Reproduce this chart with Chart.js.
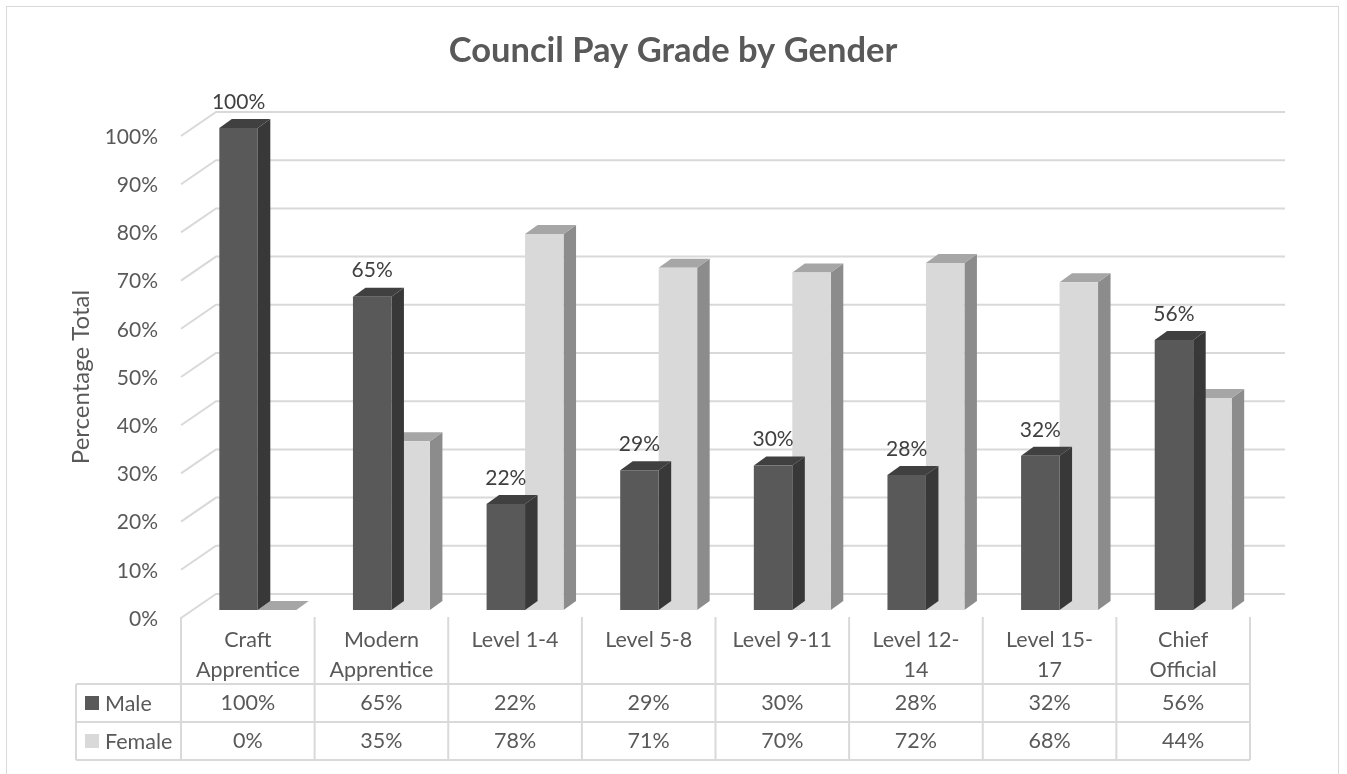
<!DOCTYPE html>
<html>
<head>
<meta charset="utf-8">
<script src="https://cdn.jsdelivr.net/npm/chart.js@4.4.1/dist/chart.umd.min.js"></script>
<style>
    html, body { margin: 0; padding: 0; background: #FFFFFF; }
    #wrap { width: 1347px; height: 774px; position: relative; }
</style>
</head>
<body>
<div id="wrap"><canvas id="chart" width="1347" height="774"></canvas></div>
<script>
const categories = ["Craft Apprentice", "Modern Apprentice", "Level 1-4", "Level 5-8", "Level 9-11", "Level 12-14", "Level 15-17", "Chief Official"];
// how each category wraps in the table header
const categoryLines = [["Craft", "Apprentice"], ["Modern", "Apprentice"], ["Level 1-4"], ["Level 5-8"], ["Level 9-11"], ["Level 12-", "14"], ["Level 15-", "17"], ["Chief", "Official"]];
const male = [100, 65, 22, 29, 30, 28, 32, 56];
const female = [0, 35, 78, 71, 70, 72, 68, 44];
const yTicks = [0, 10, 20, 30, 40, 50, 60, 70, 80, 90, 100];

const COLORS = {
    male: "#595959",
    maleSide: "#383838",
    maleTop: "#404040",
    female: "#D9D9D9",
    femaleSide: "#8C8C8C",
    femaleTop: "#A6A6A6",
    grid: "#D9D9D9",
    text: "#595959",
    label: "#404040",
};
const FONT = "Lato, 'Open Sans', sans-serif";

// projection offsets: bars sit a little behind the front plane, the wall at the back
const BAR_SHIFT = { x: 10, y: -8 };
const WALL_SHIFT = { x: 35, y: -24 };
const DEPTH = { x: 12.5, y: -9 };

const faces = [
    { side: COLORS.maleSide, top: COLORS.maleTop },
    { side: COLORS.femaleSide, top: COLORS.femaleTop },
];

const pseudo3d = {
    id: "pseudo3d",
    beforeDraw(chart) {
        const { ctx, chartArea: a, scales: { y } } = chart;
        ctx.save();
        ctx.fillStyle = "#FFFFFF";
        ctx.fillRect(0, 0, chart.width, chart.height);
        ctx.strokeStyle = COLORS.grid;
        ctx.lineWidth = 1;
        ctx.strokeRect(6.5, 6.5, 1332, 820);

        // walls: gridlines on the back plane, diagonals on the side plane
        ctx.lineWidth = 2;
        yTicks.forEach(t => {
            const py = y.getPixelForValue(t);
            ctx.beginPath();
            ctx.moveTo(a.left, py);
            ctx.lineTo(a.left + WALL_SHIFT.x, py + WALL_SHIFT.y);
            ctx.lineTo(a.right + WALL_SHIFT.x, py + WALL_SHIFT.y);
            ctx.stroke();
        });

        // y tick labels
        ctx.fillStyle = COLORS.text;
        ctx.font = "21px " + FONT;
        ctx.textAlign = "right";
        ctx.textBaseline = "middle";
        yTicks.forEach(t => ctx.fillText(t + "%", a.left - 23, y.getPixelForValue(t) + 1));

        // y axis title
        ctx.save();
        ctx.translate(81, (a.top + a.bottom) / 2);
        ctx.rotate(-Math.PI / 2);
        ctx.textAlign = "center";
        ctx.font = "24px " + FONT;
        ctx.fillText("Percentage Total", 0, 0);
        ctx.restore();

        // title
        ctx.font = "bold 34.5px " + FONT;
        ctx.textAlign = "center";
        ctx.fillText("Council Pay Grade by Gender", 673, 51);
        ctx.restore();
    },
    beforeDatasetDraw(chart, args) {
        const ctx = chart.ctx;
        ctx.save();
        ctx.translate(BAR_SHIFT.x, BAR_SHIFT.y);
        const f = faces[args.index];
        chart.getDatasetMeta(args.index).data.forEach(bar => {
            const x1 = bar.x - bar.width / 2, x2 = bar.x + bar.width / 2;
            const top = bar.y, bot = bar.base;
            ctx.fillStyle = f.side;
            ctx.beginPath();
            ctx.moveTo(x2, top);
            ctx.lineTo(x2 + DEPTH.x, top + DEPTH.y);
            ctx.lineTo(x2 + DEPTH.x, bot + DEPTH.y);
            ctx.lineTo(x2, bot);
            ctx.closePath();
            ctx.fill();
            ctx.fillStyle = f.top;
            ctx.beginPath();
            ctx.moveTo(x1, top);
            ctx.lineTo(x1 + DEPTH.x, top + DEPTH.y);
            ctx.lineTo(x2 + DEPTH.x, top + DEPTH.y);
            ctx.lineTo(x2, top);
            ctx.closePath();
            ctx.fill();
        });
    },
    afterDatasetDraw(chart) {
        chart.ctx.restore();
    },
    afterDatasetsDraw(chart) {
        const { ctx, chartArea: a, scales: { x } } = chart;
        ctx.save();

        // data labels on the male series
        ctx.fillStyle = COLORS.label;
        ctx.font = "21px " + FONT;
        ctx.textAlign = "center";
        ctx.textBaseline = "middle";
        chart.getDatasetMeta(0).data.forEach((bar, i) => {
            ctx.fillText(male[i] + "%", bar.x + BAR_SHIFT.x, bar.y + BAR_SHIFT.y - 26);
        });

        // data table
        const step = (a.right - a.left) / categories.length;
        const rows = [617, 684, 722, 760];
        const legendLeft = 76;
        ctx.strokeStyle = COLORS.grid;
        ctx.lineWidth = 2;
        for (let i = 0; i <= categories.length; i++) {
            const px = a.left + i * step;
            ctx.beginPath();
            ctx.moveTo(px, rows[0]);
            ctx.lineTo(px, rows[3]);
            ctx.stroke();
        }
        [rows[1], rows[2], rows[3]].forEach(r => {
            ctx.beginPath();
            ctx.moveTo(legendLeft, r);
            ctx.lineTo(a.right, r);
            ctx.stroke();
        });
        ctx.beginPath();
        ctx.moveTo(legendLeft, rows[1]);
        ctx.lineTo(legendLeft, rows[3]);
        ctx.stroke();

        ctx.fillStyle = COLORS.text;
        ctx.font = "21.5px " + FONT;
        categoryLines.forEach((lines, i) => {
            const cx = x.getPixelForValue(i);
            lines.forEach((ln, j) => ctx.fillText(ln, cx, 640 + j * 30));
            ctx.fillText(male[i] + "%", cx, (rows[1] + rows[2]) / 2);
            ctx.fillText(female[i] + "%", cx, (rows[2] + rows[3]) / 2);
        });

        const series = [["Male", COLORS.male, male], ["Female", COLORS.female, female]];
        ctx.textAlign = "left";
        series.forEach(([name, color], k) => {
            const cy = (rows[1 + k] + rows[2 + k]) / 2;
            ctx.fillStyle = color;
            ctx.fillRect(85, cy - 7, 14, 14);
            ctx.fillStyle = COLORS.text;
            ctx.fillText(name, 105, cy + 1);
        });
        ctx.restore();
    },
};

new Chart(document.getElementById("chart"), {
    type: "bar",
    data: {
        labels: categories,
        datasets: [
            { label: "Male", data: male, backgroundColor: COLORS.male, barPercentage: 1, categoryPercentage: 0.576 },
            { label: "Female", data: female, backgroundColor: COLORS.female, barPercentage: 1, categoryPercentage: 0.576 },
        ],
    },
    options: {
        responsive: false,
        animation: false,
        layout: { padding: { left: 181, right: 97, top: 136, bottom: 156 } },
        plugins: {
            legend: { display: false },
            tooltip: { enabled: false },
        },
        scales: {
            x: { display: false },
            y: { display: false, min: 0, max: 100 },
        },
    },
    plugins: [pseudo3d],
});
</script>
</body>
</html>
